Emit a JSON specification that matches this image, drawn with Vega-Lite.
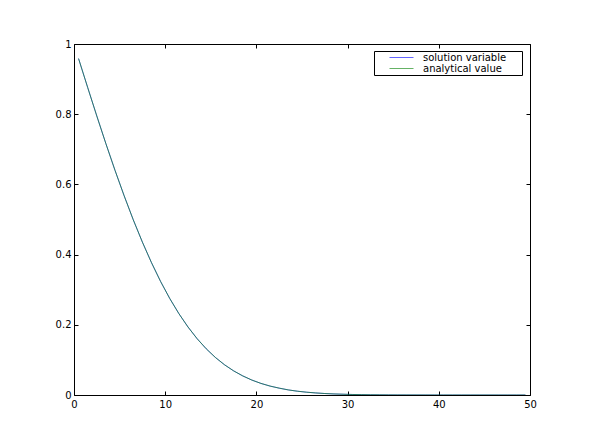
{
  "$schema": "https://vega.github.io/schema/vega-lite/v6.json",
  "autosize": "none",
  "padding": {"left": 74, "top": 44, "right": 59, "bottom": 50},
  "width": 456,
  "height": 351,
  "background": "white",
  "config": {
    "view": {"stroke": null},
    "font": "DejaVu Sans",
    "axis": {
      "grid": false,
      "domainColor": "black",
      "domainWidth": 1,
      "tickColor": "black",
      "tickWidth": 1,
      "tickSize": -4,
      "labelFlush": false,
      "labelOverlap": false,
      "labelFont": "DejaVu Sans",
      "labelFontSize": 10,
      "labelColor": "black",
      "title": null
    }
  },
  "data": {
    "values": [
      {"x": 0.5, "solution": 0.9585, "analytical": 0.9585},
      {"x": 1.5, "solution": 0.8761, "analytical": 0.8761},
      {"x": 2.5, "solution": 0.7949, "analytical": 0.7949},
      {"x": 3.5, "solution": 0.7159, "analytical": 0.7159},
      {"x": 4.5, "solution": 0.6398, "analytical": 0.6398},
      {"x": 5.5, "solution": 0.5674, "analytical": 0.5674},
      {"x": 6.5, "solution": 0.4991, "analytical": 0.4991},
      {"x": 7.5, "solution": 0.4355, "analytical": 0.4355},
      {"x": 8.5, "solution": 0.3768, "analytical": 0.3768},
      {"x": 9.5, "solution": 0.3232, "analytical": 0.3232},
      {"x": 10.5, "solution": 0.2749, "analytical": 0.2749},
      {"x": 11.5, "solution": 0.2318, "analytical": 0.2318},
      {"x": 12.5, "solution": 0.1937, "analytical": 0.1937},
      {"x": 13.5, "solution": 0.1604, "analytical": 0.1604},
      {"x": 14.5, "solution": 0.1316, "analytical": 0.1316},
      {"x": 15.5, "solution": 0.107, "analytical": 0.107},
      {"x": 16.5, "solution": 0.0862, "analytical": 0.0862},
      {"x": 17.5, "solution": 0.0688, "analytical": 0.0688},
      {"x": 18.5, "solution": 0.0544, "analytical": 0.0544},
      {"x": 19.5, "solution": 0.0426, "analytical": 0.0426},
      {"x": 20.5, "solution": 0.033, "analytical": 0.033},
      {"x": 21.5, "solution": 0.0254, "analytical": 0.0254},
      {"x": 22.5, "solution": 0.0195, "analytical": 0.0195},
      {"x": 23.5, "solution": 0.0145, "analytical": 0.0145},
      {"x": 24.5, "solution": 0.0108, "analytical": 0.0108},
      {"x": 25.5, "solution": 0.008, "analytical": 0.008},
      {"x": 26.5, "solution": 0.0059, "analytical": 0.0059},
      {"x": 27.5, "solution": 0.0042, "analytical": 0.0042},
      {"x": 28.5, "solution": 0.003, "analytical": 0.003},
      {"x": 29.5, "solution": 0.0022, "analytical": 0.0022},
      {"x": 30.5, "solution": 0.0015, "analytical": 0.0015},
      {"x": 31.5, "solution": 0.0011, "analytical": 0.0011},
      {"x": 32.5, "solution": 0.0007, "analytical": 0.0007},
      {"x": 33.5, "solution": 0.0005, "analytical": 0.0005},
      {"x": 34.5, "solution": 0.0003, "analytical": 0.0003},
      {"x": 35.5, "solution": 0.0002, "analytical": 0.0002},
      {"x": 36.5, "solution": 0.00014, "analytical": 0.00014},
      {"x": 37.5, "solution": 0.00009, "analytical": 0.00009},
      {"x": 38.5, "solution": 0.00006, "analytical": 0.00006},
      {"x": 39.5, "solution": 0.00004, "analytical": 0.00004},
      {"x": 40.5, "solution": 0.00002, "analytical": 0.00002},
      {"x": 41.5, "solution": 0.00001, "analytical": 0.00001},
      {"x": 42.5, "solution": 0.00001, "analytical": 0.00001},
      {"x": 43.5, "solution": 0.000005, "analytical": 0.000005},
      {"x": 44.5, "solution": 0.000003, "analytical": 0.000003},
      {"x": 45.5, "solution": 0.000002, "analytical": 0.000002},
      {"x": 46.5, "solution": 0.000001, "analytical": 0.000001},
      {"x": 47.5, "solution": 0.000001, "analytical": 0.000001},
      {"x": 48.5, "solution": 0, "analytical": 0},
      {"x": 49.5, "solution": 0, "analytical": 0}
    ]
  },
  "layer": [
    {
      "transform": [
        {"fold": ["solution", "analytical"], "as": ["series", "value"]},
        {"calculate": "datum.series == 'solution' ? 'solution variable' : 'analytical value'", "as": "label"}
      ],
      "mark": {"type": "line", "strokeWidth": 1, "opacity": 0.6, "clip": true},
      "encoding": {
        "x": {
          "field": "x", "type": "quantitative",
          "scale": {"domain": [0, 50], "nice": false, "zero": false},
          "axis": {"orient": "bottom", "values": [0, 10, 20, 30, 40, 50], "labelPadding": 8}
        },
        "y": {
          "field": "value", "type": "quantitative",
          "scale": {"domain": [0, 1], "nice": false},
          "axis": {"orient": "left", "values": [0, 0.2, 0.4, 0.6, 0.8, 1], "format": "~g", "labelPadding": 7}
        },
        "color": {
          "field": "label", "type": "nominal",
          "scale": {"domain": ["solution variable", "analytical value"], "range": ["#0000ff", "#008000"]},
          "sort": ["solution variable", "analytical value"],
          "legend": {
            "title": null,
            "orient": "none",
            "legendX": 300,
            "legendY": 7,
            "symbolType": "M-2.4,0H2.4",
            "symbolStrokeWidth": 1,
            "symbolSize": 100,
            "symbolOffset": 21,
            "labelFontSize": 10,
            "labelFont": "DejaVu Sans",
            "labelColor": "black",
            "labelExpr": "datum.label + '\u2800\u2800'",
            "strokeColor": "black",
            "fillColor": "white",
            "padding": 1,
            "rowPadding": 0,
            "labelOffset": 16
          }
        },
        "order": {"field": "series", "sort": "descending"}
      }
    },
    {
      "mark": {"type": "point", "opacity": 0},
      "encoding": {
        "x": {
          "field": "x", "type": "quantitative",
          "scale": {"domain": [0, 50], "nice": false, "zero": false},
          "axis": {"orient": "top", "values": [0, 10, 20, 30, 40, 50], "labels": false}
        },
        "y": {
          "field": "analytical", "type": "quantitative",
          "scale": {"domain": [0, 1], "nice": false},
          "axis": {"orient": "right", "values": [0, 0.2, 0.4, 0.6, 0.8, 1], "labels": false}
        }
      }
    }
  ],
  "resolve": {"axis": {"x": "independent", "y": "independent"}}
}
